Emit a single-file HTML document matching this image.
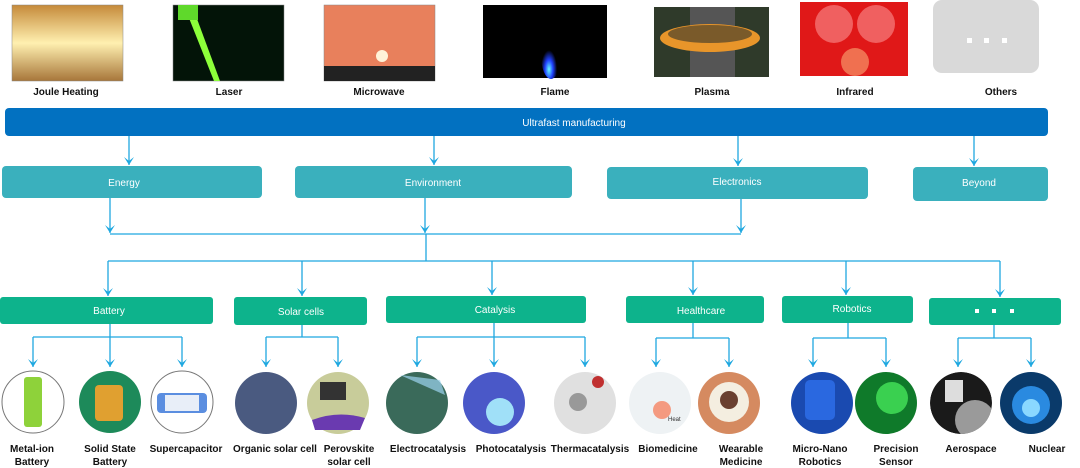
<!DOCTYPE html>
<html><head><meta charset="utf-8"><style>
html,body{margin:0;padding:0;background:#fff;}
svg{display:block;font-family:"Liberation Sans",Arial,sans-serif;}
</style></head><body>
<svg width="1080" height="468" viewBox="0 0 1080 468" xmlns="http://www.w3.org/2000/svg">
<defs>
<marker id="a" markerWidth="10" markerHeight="10" refX="5" refY="8" orient="0" markerUnits="userSpaceOnUse">
<path d="M0,0 L5,8 L10,0 L5,4 Z" fill="#1fa8e0"/></marker>
<linearGradient id="jh" x1="0" y1="0" x2="0" y2="1"><stop offset="0" stop-color="#c58a3a"/><stop offset=".5" stop-color="#fff0b0"/><stop offset="1" stop-color="#a7763a"/></linearGradient>
<radialGradient id="fl" cx=".4" cy=".8" r=".4"><stop offset="0" stop-color="#6ff"/><stop offset=".5" stop-color="#2040ff"/><stop offset="1" stop-color="#000"/></radialGradient>
<clipPath id="ca"><circle cx="961" cy="403" r="31"/></clipPath>
</defs>
<rect x="12" y="5" width="111" height="76" fill="url(#jh)" stroke="#888" stroke-width=".5"/>
<rect x="173" y="5" width="111" height="76" fill="#031408" stroke="#888" stroke-width=".5"/>
<path d="M185,8 L193,8 L220,81 L214,81 Z" fill="#8dff3a"/>
<rect x="178" y="5" width="20" height="15" fill="#5fd92b"/>
<rect x="324" y="5" width="111" height="76" fill="#e8805c" stroke="#888" stroke-width=".5"/>
<rect x="324" y="66" width="111" height="15" fill="#222"/>
<circle cx="382" cy="56" r="6" fill="#fff3d8"/>
<rect x="483" y="5" width="124" height="73" fill="#000"/>
<ellipse cx="551" cy="55" rx="10" ry="24" fill="url(#fl)"/>
<rect x="654" y="7" width="115" height="70" fill="#2f3a2a"/>
<rect x="690" y="7" width="45" height="70" fill="#555"/>
<ellipse cx="710" cy="38" rx="50" ry="14" fill="#e8952a"/>
<ellipse cx="710" cy="34" rx="42" ry="9" fill="#7a5a2a"/>
<rect x="800" y="2" width="108" height="74" fill="#e01818"/>
<circle cx="834" cy="24" r="19" fill="#f06060"/><circle cx="876" cy="24" r="19" fill="#f06060"/><circle cx="855" cy="62" r="14" fill="#f07050"/>
<rect x="933" y="0" width="106" height="73" rx="9" fill="#d9d9d9"/>
<g fill="#fff"><rect x="967" y="38" width="5" height="5"/><rect x="984" y="38" width="5" height="5"/><rect x="1002" y="38" width="5" height="5"/></g>
<g font-size="10" font-weight="bold" fill="#111" text-anchor="middle">
<text x="66" y="95">Joule Heating</text><text x="229" y="95">Laser</text><text x="379" y="95">Microwave</text>
<text x="555" y="95">Flame</text><text x="712" y="95">Plasma</text><text x="855" y="95">Infrared</text><text x="1001" y="95">Others</text>
</g>
<rect x="5" y="108" width="1043" height="28" rx="4" fill="#0271c1"/>
<text x="574" y="126" font-size="10" fill="#fff" text-anchor="middle">Ultrafast manufacturing</text>
<g stroke="#1fa8e0" stroke-width="1.3" fill="none">
<line x1="129" y1="136" x2="129" y2="165" marker-end="url(#a)"/>
<line x1="434" y1="136" x2="434" y2="165" marker-end="url(#a)"/>
<line x1="738" y1="136" x2="738" y2="166" marker-end="url(#a)"/>
<line x1="974" y1="136" x2="974" y2="166" marker-end="url(#a)"/>
<line x1="110" y1="198" x2="110" y2="233" marker-end="url(#a)"/>
<line x1="425" y1="198" x2="425" y2="233" marker-end="url(#a)"/>
<line x1="741" y1="199" x2="741" y2="233" marker-end="url(#a)"/>
<polyline points="110,234 741,234"/>
<polyline points="426,234 426,261"/>
<polyline points="108,261 1000,261"/>
<line x1="108" y1="261" x2="108" y2="296" marker-end="url(#a)"/>
<line x1="302" y1="261" x2="302" y2="296" marker-end="url(#a)"/>
<line x1="492" y1="261" x2="492" y2="295" marker-end="url(#a)"/>
<line x1="693" y1="261" x2="693" y2="295" marker-end="url(#a)"/>
<line x1="846" y1="261" x2="846" y2="295" marker-end="url(#a)"/>
<line x1="1000" y1="261" x2="1000" y2="297" marker-end="url(#a)"/>
<polyline points="110,324 110,337"/><polyline points="33,337 182,337"/>
<polyline points="302,325 302,337"/><polyline points="266,337 338,337"/>
<polyline points="494,323 494,337"/><polyline points="417,337 585,337"/>
<polyline points="693,323 693,338"/><polyline points="656,338 729,338"/>
<polyline points="848,323 848,338"/><polyline points="813,338 886,338"/>
<polyline points="994,325 994,338"/><polyline points="958,338 1031,338"/>
<line x1="33" y1="337" x2="33" y2="367" marker-end="url(#a)"/>
<line x1="110" y1="337" x2="110" y2="367" marker-end="url(#a)"/>
<line x1="182" y1="337" x2="182" y2="367" marker-end="url(#a)"/>
<line x1="266" y1="337" x2="266" y2="367" marker-end="url(#a)"/>
<line x1="338" y1="337" x2="338" y2="367" marker-end="url(#a)"/>
<line x1="417" y1="337" x2="417" y2="367" marker-end="url(#a)"/>
<line x1="494" y1="337" x2="494" y2="367" marker-end="url(#a)"/>
<line x1="585" y1="337" x2="585" y2="367" marker-end="url(#a)"/>
<line x1="656" y1="338" x2="656" y2="367" marker-end="url(#a)"/>
<line x1="729" y1="338" x2="729" y2="367" marker-end="url(#a)"/>
<line x1="813" y1="338" x2="813" y2="367" marker-end="url(#a)"/>
<line x1="886" y1="338" x2="886" y2="367" marker-end="url(#a)"/>
<line x1="958" y1="338" x2="958" y2="367" marker-end="url(#a)"/>
<line x1="1031" y1="338" x2="1031" y2="367" marker-end="url(#a)"/>
</g>
<g fill="#3ab0bd">
<rect x="2" y="166" width="260" height="32" rx="4"/>
<rect x="295" y="166" width="277" height="32" rx="4"/>
<rect x="607" y="167" width="261" height="32" rx="4"/>
<rect x="913" y="167" width="135" height="34" rx="4"/>
</g>
<g font-size="10" fill="#fff" text-anchor="middle">
<text x="124" y="186">Energy</text><text x="433" y="186">Environment</text>
<text x="737" y="185">Electronics</text><text x="979" y="186">Beyond</text>
</g>
<g fill="#0db38c">
<rect x="0" y="297" width="213" height="27" rx="3"/>
<rect x="234" y="297" width="133" height="28" rx="3"/>
<rect x="386" y="296" width="200" height="27" rx="3"/>
<rect x="626" y="296" width="138" height="27" rx="3"/>
<rect x="782" y="296" width="131" height="27" rx="3"/>
<rect x="929" y="298" width="132" height="27" rx="3"/>
</g>
<g font-size="10" fill="#fff" text-anchor="middle">
<text x="109" y="314">Battery</text><text x="301" y="315">Solar cells</text><text x="495" y="313">Catalysis</text>
<text x="701" y="314">Healthcare</text><text x="852" y="312">Robotics</text>
</g>
<g fill="#fff"><rect x="975" y="309" width="4" height="4"/><rect x="992" y="309" width="4" height="4"/><rect x="1010" y="309" width="4" height="4"/></g>
<circle cx="33" cy="402" r="31" fill="#fff" stroke="#777"/><rect x="24" y="377" width="18" height="50" rx="3" fill="#8ed23a"/>
<circle cx="110" cy="402" r="31" fill="#1d8a5a"/><rect x="95" y="385" width="28" height="36" rx="4" fill="#e0a030"/>
<circle cx="182" cy="402" r="31" fill="#fff" stroke="#777"/><rect x="157" y="393" width="50" height="20" rx="4" fill="#5b8ee0"/><rect x="165" y="395" width="34" height="16" fill="#e8eef8"/>
<circle cx="266" cy="403" r="31" fill="#4a5a80"/>
<circle cx="338" cy="403" r="31" fill="#c8cc9a"/><rect x="320" y="382" width="26" height="18" fill="#333"/><path d="M312,420 Q338,410 365,418 L360,430 L315,430 Z" fill="#6a3ab0"/>
<circle cx="417" cy="403" r="31" fill="#3a6a5a"/><path d="M400,375 L445,395 L440,380 Z" fill="#9cd4f0" opacity=".7"/>
<circle cx="494" cy="403" r="31" fill="#4a58c8"/><circle cx="500" cy="412" r="14" fill="#a0e0f8"/>
<circle cx="585" cy="403" r="31" fill="#e0e0e0"/><circle cx="598" cy="382" r="6" fill="#c03030"/><circle cx="578" cy="402" r="9" fill="#999"/>
<circle cx="660" cy="403" r="31" fill="#eef2f4"/><circle cx="662" cy="410" r="9" fill="#f49a80"/>
<text x="668" y="421" font-size="6" fill="#333">Heat</text>
<circle cx="729" cy="403" r="31" fill="#d58a60"/><circle cx="729" cy="402" r="20" fill="#f4eee0"/><circle cx="729" cy="400" r="9" fill="#6a4030"/>
<circle cx="822" cy="403" r="31" fill="#1a4ab0"/><rect x="805" y="380" width="30" height="40" rx="5" fill="#2a68e0"/>
<circle cx="886" cy="403" r="31" fill="#0f7a2a"/><circle cx="892" cy="398" r="16" fill="#3ad050"/>
<g clip-path="url(#ca)"><circle cx="961" cy="403" r="31" fill="#1a1a1a"/><circle cx="975" cy="420" r="20" fill="#9a9a9a"/><rect x="945" y="380" width="18" height="22" fill="#ddd"/></g>
<circle cx="1031" cy="403" r="31" fill="#0a3a6a"/><circle cx="1031" cy="405" r="19" fill="#2a8ae0"/><circle cx="1031" cy="408" r="9" fill="#8ad8ff"/>
<g font-size="10" font-weight="bold" fill="#111" text-anchor="middle">
<text x="32" y="452">Metal-ion</text><text x="32" y="465">Battery</text>
<text x="110" y="452">Solid State</text><text x="110" y="465">Battery</text>
<text x="186" y="452">Supercapacitor</text>
<text x="275" y="452">Organic solar cell</text>
<text x="349" y="452">Perovskite</text><text x="349" y="465">solar cell</text>
<text x="428" y="452">Electrocatalysis</text>
<text x="511" y="452">Photocatalysis</text>
<text x="590" y="452">Thermacatalysis</text>
<text x="668" y="452">Biomedicine</text>
<text x="741" y="452">Wearable</text><text x="741" y="465">Medicine</text>
<text x="820" y="452">Micro-Nano</text><text x="820" y="465">Robotics</text>
<text x="896" y="452">Precision</text><text x="896" y="465">Sensor</text>
<text x="971" y="452">Aerospace</text>
<text x="1047" y="452">Nuclear</text>
</g>
</svg>
</body></html>
